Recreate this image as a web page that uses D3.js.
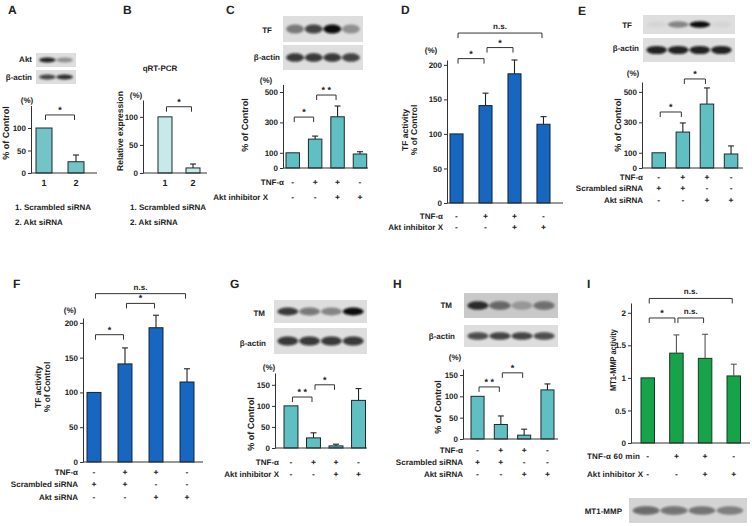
<!DOCTYPE html>
<html>
<head>
<meta charset="utf-8">
<script src="https://cdn.jsdelivr.net/npm/d3@7"></script>
<style>
  body { margin: 0; background: #fff; }
  svg { display: block; }
</style>
</head>
<body>
<div id="fig"></div>
<script>
// ---- data ----
const siGroups = ['1', '2'];
const groups4 = ['c1', 'c2', 'c3', 'c4'];

const aktProtein = [100, 25];           // A
const aktProteinErr = [0, 15];
const aktMrna = [100, 9];               // B
const aktMrnaErr = [0, 7];
const tfProteinInh = [100, 190, 337, 92];   // C
const tfProteinInhErr = [0, 20, 71, 15];
const tfActivityInh = [100, 141, 187, 114]; // D
const tfActivityInhErr = [0, 18, 20, 11];
const tfProteinSi = [100, 236, 420, 92];    // E
const tfProteinSiErr = [0, 60, 106, 53];
const tfActivitySi = [100, 141, 193, 115];  // F
const tfActivitySiErr = [0, 23, 18, 19];
const tmProteinInh = [100, 24, 5, 113];     // G
const tmProteinInhErr = [0, 12, 4, 28];
const tmProteinSi = [100, 34, 9, 115];      // H
const tmProteinSiErr = [0, 20, 14, 14];
const mmpActivity = [1, 1.38, 1.30, 1.03];  // I
const mmpActivityErr = [0, 0.28, 0.37, 0.18];

const signsTnf = ['-', '+', '+', '-'];
const signsInh = ['-', '-', '+', '+'];
const signsScr = ['+', '+', '-', '-'];
const signsAktSi = ['-', '-', '+', '+'];

const ticksPct = [0, 50, 100];
const ticksTfBlot = [0, 100, 300, 500];
const ticksActivity = [0, 50, 100, 150, 200];
const ticksTm = [0, 50, 100, 150];
const ticksMmp = [0, 0.5, 1, 1.5, 2];

// blot band intensities, one per lane
const blotAkt = [0.9, 0.35];
const blotActinA = [0.75, 0.85];
const blotTfC = [0.45, 0.75, 1, 0.35];
const blotActinC = [0.8, 0.8, 0.8, 0.75];
const blotTfE = [0.04, 0.4, 1, 0.04];
const blotActinE = [0.9, 0.9, 0.9, 0.9];
const blotTmG = [0.8, 0.5, 0.4, 1];
const blotActinG = [0.8, 0.8, 0.8, 0.8];
const blotTmH = [0.85, 0.55, 0.25, 0.5];
const blotActinH = [0.7, 0.75, 0.75, 0.7];
const blotMmp = [0.55, 0.5, 0.45, 0.4];

const FONT = '"Liberation Sans", Arial, sans-serif';
const INK = '#222';

const svg = d3.select('#fig').append('svg')
    .attr('width', 752)
    .attr('height', 526)
    .attr('font-family', FONT)
    .attr('font-weight', 'bold')
    .style('text-rendering', 'geometricPrecision');

svg.append('rect').attr('width', 752).attr('height', 526).attr('fill', '#fff');

const defs = svg.append('defs');
defs.append('filter').attr('id', 'blur')
    .attr('x', '-20%').attr('y', '-60%').attr('width', '140%').attr('height', '220%')
    .append('feGaussianBlur').attr('stdDeviation', 1.3);

function text(x, y, s, size, anchor) {
    return svg.append('text')
        .attr('x', x)
        .attr('y', y)
        .attr('font-size', size)
        .attr('text-anchor', anchor || 'start')
        .attr('fill', INK)
        .text(s);
}

function vtext(x, y, s, size) {
    return svg.append('text')
        .attr('transform', `translate(${x},${y}) rotate(-90)`)
        .attr('dy', '0.35em')
        .attr('font-size', size)
        .attr('text-anchor', 'middle')
        .attr('fill', INK)
        .text(s);
}

// Western blot strip: grey box with blurred dark bands
function blot(x0, y0, w, h, levels, bg) {
    const lane = d3.scaleBand().domain(d3.range(levels.length))
        .range([x0 + 2, x0 + w - 2]).padding(0.08);
    svg.append('rect')
        .attr('x', x0).attr('y', y0).attr('width', w).attr('height', h)
        .attr('fill', bg || '#dedede');
    const clip = 'clip' + x0 + '_' + y0;
    defs.append('clipPath').attr('id', clip).append('rect')
        .attr('x', x0).attr('y', y0).attr('width', w).attr('height', h);
    svg.append('g').attr('clip-path', `url(#${clip})`)
        .append('g').attr('filter', 'url(#blur)')
        .selectAll('ellipse').data(levels).enter()
        .append('ellipse')
        .attr('cx', (d, i) => lane(i) + lane.bandwidth() / 2)
        .attr('cy', y0 + h / 2)
        .attr('rx', lane.bandwidth() * 0.52)
        .attr('ry', Math.max(2, h * 0.17))
        .attr('fill', '#0d0d0d')
        .attr('opacity', d => d);
}

function barPanel(p) {
    const x = d3.scaleBand().domain(p.groups).range(p.band).paddingInner(p.pad);
    const y = d3.scaleLinear().domain([0, p.max]).range([p.base, p.top]);
    const cx = i => x(p.groups[i]) + x.bandwidth() / 2;
    const g = svg.append('g');

    // Bars
    g.selectAll('rect.bar').data(p.values).enter()
        .append('rect')
        .attr('class', 'bar')
        .attr('x', (d, i) => x(p.groups[i]))
        .attr('y', d => y(d))
        .attr('width', x.bandwidth())
        .attr('height', d => y(0) - y(d))
        .attr('fill', p.color)
        .attr('stroke', p.stroke || '#1c2b2c')
        .attr('stroke-width', 1);

    // Error bars (upper only)
    const errCol = p.errColor || '#222';
    p.errors.forEach((e, i) => {
        if (!e) return;
        const v = p.values[i];
        g.append('line')
            .attr('x1', cx(i)).attr('x2', cx(i))
            .attr('y1', y(v)).attr('y2', y(v + e))
            .attr('stroke', errCol).attr('stroke-width', 1.1);
        g.append('line')
            .attr('x1', cx(i) - 3).attr('x2', cx(i) + 3)
            .attr('y1', y(v + e)).attr('y2', y(v + e))
            .attr('stroke', errCol).attr('stroke-width', 1.1);
    });

    // Y axis
    const ax = g.append('g')
        .attr('transform', `translate(${p.axisX},0)`)
        .call(d3.axisLeft(y).tickValues(p.ticks).tickSize(3).tickSizeOuter(0)
            .tickPadding(2).tickFormat(p.fmt || d3.format('d')));
    ax.attr('font-family', FONT).attr('font-size', 8);
    ax.selectAll('text').attr('fill', INK);
    ax.selectAll('line, path').attr('stroke', '#333');

    // X baseline
    g.append('line')
        .attr('x1', p.axisX).attr('x2', p.axisEnd)
        .attr('y1', y(0)).attr('y2', y(0))
        .attr('stroke', '#333');

    // Significance brackets
    (p.brackets || []).forEach(b => {
        const x1 = cx(b[0]) + 1.5, x2 = cx(b[1]) - 1.5, yb = y(b[2]);
        g.append('path')
            .attr('d', `M${x1},${yb + 5}V${yb}H${x2}V${yb + 5}`)
            .attr('fill', 'none')
            .attr('stroke', '#333')
            .attr('stroke-width', 1);
        g.append('text')
            .attr('x', (x1 + x2) / 2)
            .attr('y', yb - (b[3] === 'n.s.' ? 4 : 2))
            .attr('font-size', b[3] === 'n.s.' ? 8 : 9)
            .attr('text-anchor', 'middle')
            .attr('fill', INK)
            .text(b[3]);
    });

    // Treatment rows
    (p.rows || []).forEach(r => {
        const t = text(r.x, r.y, r.label, 8, r.anchor || 'end');
        if (r.width) t.attr('textLength', r.width).attr('lengthAdjust', 'spacing');
        r.signs.forEach((s, i) => text(cx(i), r.y, s, 8.5, 'middle'));
    });
    return { x, y, cx };
}

// ---- A ----
text(8, 14, 'A', 12);
blot(36, 53, 40, 14, blotAkt);
blot(36, 70, 40, 14, blotActinA);
text(32, 62, 'Akt', 8, 'end');
text(32, 80, 'β-actin', 8, 'end');
text(27, 103, '(%)', 8, 'middle');
vtext(6, 133, '% of Control', 9);
const pA = barPanel({
    groups: siGroups, values: aktProtein, errors: aktProteinErr,
    band: [36, 84], pad: 0.5, max: 150, base: 173, top: 105.5,
    axisX: 31, axisEnd: 97, ticks: ticksPct, color: '#74c4c7',
    brackets: [[0, 1, 129, '*']]
});
siGroups.forEach((s, i) => text(pA.cx(i), 186, s, 9, 'middle'));
text(15, 210, '1. Scrambled siRNA', 8);
text(15, 225, '2. Akt siRNA', 8);

// ---- B ----
text(123, 14, 'B', 12);
text(160, 71, 'qRT-PCR', 8, 'middle');
text(136, 98, '(%)', 8, 'middle');
vtext(120, 131, 'Relative expression', 8.5);
const pB = barPanel({
    groups: siGroups, values: aktMrna, errors: aktMrnaErr,
    band: [158, 200], pad: 0.5, max: 130, base: 173, top: 100,
    axisX: 143, axisEnd: 207, ticks: ticksPct, color: '#c8e9ea',
    brackets: [[0, 1, 118, '*']]
});
siGroups.forEach((s, i) => text(pB.cx(i), 186, s, 9, 'middle'));
text(130, 210, '1. Scrambled siRNA', 8);
text(130, 225, '2. Akt siRNA', 8);

// ---- C ----
text(226, 14, 'C', 12);
blot(283, 16, 80, 26, blotTfC);
blot(283, 45, 80, 25, blotActinC);
text(272, 33, 'TF', 8, 'end');
text(280, 60, 'β-actin', 8, 'end');
text(266, 83, '(%)', 8, 'middle');
vtext(245, 125, '% of Control', 9);
barPanel({
    groups: groups4, values: tfProteinInh, errors: tfProteinInhErr,
    band: [286, 366.7], pad: 0.4, max: 550, base: 168, top: 84.4,
    axisX: 283, axisEnd: 368, ticks: ticksTfBlot, color: '#5fbfc3',
    brackets: [[0, 1, 335, '*'], [1, 2, 480, '* *']],
    rows: [
        { label: 'TNF-α', x: 284, y: 185, signs: signsTnf },
        { label: 'Akt inhibitor X', x: 268, y: 200, signs: signsInh }
    ]
});

// ---- D ----
text(401, 14, 'D', 12);
text(431, 53, '(%)', 8, 'middle');
vtext(405, 130, 'TF activity', 8.5);
vtext(414, 130, '% of Control', 8.5);
barPanel({
    groups: groups4, values: tfActivityInh, errors: tfActivityInhErr,
    band: [450, 550], pad: 0.55, max: 207, base: 203, top: 60,
    axisX: 447, axisEnd: 563, ticks: ticksActivity, color: '#1766bf',
    stroke: '#10233d',
    brackets: [[0, 1, 209, '*'], [1, 2, 225, '*'], [0, 3, 246, 'n.s.']],
    rows: [
        { label: 'TNF-α', x: 443, y: 219, signs: signsTnf },
        { label: 'Akt inhibitor X', x: 443, y: 230, signs: signsInh }
    ]
});

// ---- E ----
text(578, 15, 'E', 12);
blot(643, 15, 92, 19, blotTfE);
blot(643, 38, 92, 24, blotActinE);
text(632, 28, 'TF', 8, 'end');
text(639, 51, 'β-actin', 8, 'end');
text(633, 76, '(%)', 8, 'middle');
vtext(618, 125, '% of Control', 9);
barPanel({
    groups: groups4, values: tfProteinSi, errors: tfProteinSiErr,
    band: [652, 737.8], pad: 0.44, max: 565, base: 168, top: 82,
    axisX: 642, axisEnd: 743, ticks: ticksTfBlot, color: '#5fbfc3',
    brackets: [[0, 1, 368, '*'], [1, 2, 585, '*']],
    rows: [
        { label: 'TNF-α', x: 643, y: 180, signs: signsTnf },
        { label: 'Scrambled siRNA', x: 643, y: 191, signs: signsScr },
        { label: 'Akt siRNA', x: 643, y: 203, signs: signsAktSi }
    ]
});

// ---- F ----
text(13, 288, 'F', 12);
text(70, 313, '(%)', 8, 'middle');
vtext(38, 387, 'TF activity', 8.5);
vtext(47, 387, '% of Control', 8.5);
barPanel({
    groups: groups4, values: tfActivitySi, errors: tfActivitySiErr,
    band: [87, 194], pad: 0.55, max: 207, base: 462, top: 318,
    axisX: 83, axisEnd: 203, ticks: ticksActivity, color: '#1766bf',
    stroke: '#10233d',
    brackets: [[0, 1, 183, '*'], [1, 2, 228, '*'], [0, 3, 242, 'n.s.']],
    rows: [
        { label: 'TNF-α', x: 78, y: 475, signs: signsTnf },
        { label: 'Scrambled siRNA', x: 78, y: 487, signs: signsScr },
        { label: 'Akt siRNA', x: 78, y: 500, signs: signsAktSi }
    ]
});

// ---- G ----
text(230, 288, 'G', 12);
blot(274, 300, 93, 23, blotTmG);
blot(274, 328, 93, 26, blotActinG);
text(265, 316, 'TM', 8, 'end');
text(266, 346, 'β-actin', 8, 'end');
text(269, 370, '(%)', 8, 'middle');
vtext(251, 424, '% of Control', 9);
barPanel({
    groups: groups4, values: tmProteinInh, errors: tmProteinInhErr,
    band: [284, 365.5], pad: 0.38, max: 178, base: 448, top: 373,
    axisX: 275, axisEnd: 367, ticks: ticksTm, color: '#5fbfc3',
    brackets: [[0, 1, 121, '* *'], [1, 2, 150, '*']],
    rows: [
        { label: 'TNF-α', x: 279, y: 465, signs: signsTnf },
        { label: 'Akt inhibitor X', x: 279, y: 477, signs: signsInh }
    ]
});

// ---- H ----
text(393, 288, 'H', 12);
blot(464, 293, 94, 25, blotTmH, '#c9c9c9');
blot(464, 325, 94, 22, blotActinH);
text(452, 308, 'TM', 8, 'end');
text(455, 339, 'β-actin', 8, 'end');
text(455, 360, '(%)', 8, 'middle');
vtext(438, 407, '% of Control', 9);
barPanel({
    groups: groups4, values: tmProteinSi, errors: tmProteinSiErr,
    band: [471, 554], pad: 0.44, max: 164, base: 439, top: 369,
    axisX: 463, axisEnd: 558, ticks: ticksTm, color: '#5fbfc3',
    brackets: [[0, 1, 122, '* *'], [1, 2, 155, '*']],
    rows: [
        { label: 'TNF-α', x: 463, y: 453, signs: signsTnf },
        { label: 'Scrambled siRNA', x: 463, y: 465, signs: signsScr },
        { label: 'Akt siRNA', x: 463, y: 477, signs: signsAktSi }
    ]
});

// ---- I ----
text(587, 288, 'I', 12);
svg.append('text')
    .attr('transform', 'translate(613,360) rotate(-90)')
    .attr('dy', '0.35em')
    .attr('font-size', 8.5)
    .attr('text-anchor', 'middle')
    .attr('textLength', 62)
    .attr('lengthAdjust', 'spacingAndGlyphs')
    .attr('fill', INK)
    .text('MT1-MMP activity');
barPanel({
    groups: groups4, values: mmpActivity, errors: mmpActivityErr,
    band: [641, 740.5], pad: 0.53, max: 2.15, base: 443, top: 303,
    axisX: 631, axisEnd: 750, ticks: ticksMmp, fmt: d => String(d),
    color: '#17a34a', stroke: '#153a22', errColor: '#555',
    brackets: [[0, 1, 1.92, '*'], [1, 2, 1.92, 'n.s.'], [0, 3, 2.22, 'n.s.']],
    rows: [
        { label: 'TNF-α  60 min', x: 587, y: 459, signs: signsTnf, anchor: 'start', width: 53 },
        { label: 'Akt inhibitor X', x: 587, y: 477, signs: signsInh, anchor: 'start', width: 56 }
    ]
});
blot(629, 498, 118, 25, blotMmp, '#d4d4d4');
text(622, 514, 'MT1-MMP', 8, 'end');
</script>
</body>
</html>
